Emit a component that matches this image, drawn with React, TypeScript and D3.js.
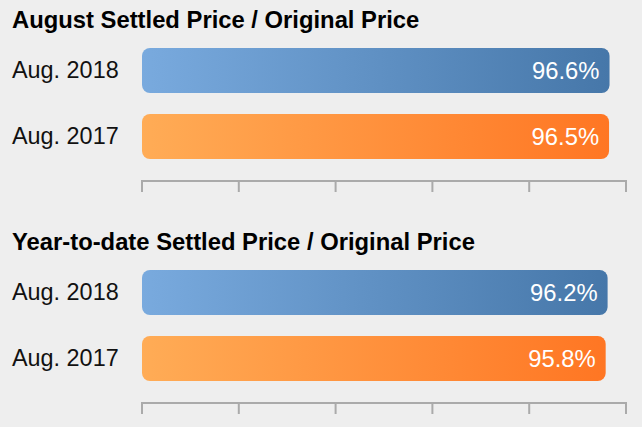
import React, { useEffect } from 'react';
import * as d3 from 'd3';

const periods = ['Aug. 2018', 'Aug. 2017'];
const augustValues = [96.6, 96.5];
const ytdValues = [96.2, 95.8];
const panelTitles = ['August Settled Price / Original Price', 'Year-to-date Settled Price / Original Price'];
const axisTicks = [0, 20, 40, 60, 80, 100];

const W = 642;
const H = 427;
const FONT = '"Liberation Sans", Arial, sans-serif';

const x = d3.scaleLinear().domain([0, 100]).range([142, 626]);
// two bars, 45px high, 66px apart
const y = d3.scaleBand<string>().domain(periods).range([0, 111]).paddingInner(0.318).paddingOuter(0);

const gradIds = ['gradBlue', 'gradOrange'];

function Panel({ title, values, top }: { title: string; values: number[]; top: number }) {
  const axisY = top + 133;
  return (
    <g>
      <text x={12} y={top - 20} fontFamily={FONT} fontWeight="bold" fontSize={23.8} fill="#000">
        {title}
      </text>
      {periods.map((p, i) => {
        const by = top + (y(p) ?? 0);
        const mid = by + y.bandwidth() / 2;
        return (
          <g key={p}>
            <text x={12} y={mid + 7.5} fontFamily={FONT} fontSize={23.4} fill="#111">
              {p}
            </text>
            <rect
              x={x(0)}
              y={by}
              width={x(values[i]) - x(0)}
              height={y.bandwidth()}
              rx={8}
              ry={8}
              fill={`url(#${gradIds[i]})`}
            />
            <text x={x(values[i]) - 10} y={mid + 8.5} textAnchor="end" fontFamily={FONT} fontSize={23.8} fill="#fff">
              {values[i].toFixed(1)}%
            </text>
          </g>
        );
      })}
      <line x1={x(0)} x2={x(100)} y1={axisY} y2={axisY} stroke="#aaa" strokeWidth={2} />
      {axisTicks.map((t) => (
        <line key={t} x1={x(t)} x2={x(t)} y1={axisY - 1} y2={axisY + 11} stroke="#aaa" strokeWidth={2} />
      ))}
    </g>
  );
}

export default function App() {
  useEffect(() => {
    document.body.style.margin = '0';
  }, []);
  return (
    <svg width={W} height={H} style={{ display: 'block', background: '#eeeeee' }}>
      <defs>
        <linearGradient id="gradBlue" x1="0" x2="1" y1="0" y2="0">
          <stop offset="0%" stopColor="#79aade" />
          <stop offset="100%" stopColor="#4677a9" />
        </linearGradient>
        <linearGradient id="gradOrange" x1="0" x2="1" y1="0" y2="0">
          <stop offset="0%" stopColor="#ffac56" />
          <stop offset="100%" stopColor="#ff7623" />
        </linearGradient>
      </defs>
      <rect width={W} height={H} fill="#eeeeee" />
      <Panel title={panelTitles[0]} values={augustValues} top={48} />
      <Panel title={panelTitles[1]} values={ytdValues} top={270} />
    </svg>
  );
}
